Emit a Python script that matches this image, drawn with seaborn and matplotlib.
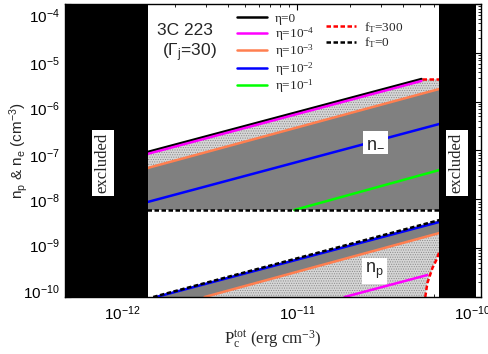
import matplotlib
matplotlib.use("Agg")
import matplotlib.pyplot as plt
import seaborn as sns
import numpy as np
from matplotlib.lines import Line2D
from matplotlib.ticker import LogLocator, NullFormatter
from matplotlib.transforms import ScaledTranslation

# ---- values (P_c^tot in erg cm^-3, n in cm^-3) ----
excl_left = [4.7e-13, 1.41e-12]
excl_right = [6.47e-11, 1.05e-10]

# upper branch (n_-)
p_eta0_e = [1.39e-12, 5.12e-11]
n_eta0_e = [9.3e-8, 2.91e-6]
p_eta4_e = [1.39e-12, 5.12e-11]
n_eta4_e = [8.5e-8, 2.66e-6]
p_eta3_e = [1.39e-12, 6.47e-11]
n_eta3_e = [4.37e-8, 1.82e-6]
p_eta2_e = [1.39e-12, 6.47e-11]
n_eta2_e = [8.8e-9, 3.49e-7]
p_eta1_e = [9.6e-12, 6.47e-11]
n_eta1_e = [6.04e-9, 3.98e-8]
p_f0_e = [1.39e-12, 6.47e-11]
n_f0_e = [6.04e-9, 6.04e-9]
p_f300_e = [5.12e-11, 6.47e-11]
n_f300_e = [2.91e-6, 2.91e-6]

# lower branch (n_p)
p_f0_p = [1.5e-12, 6.47e-11]
n_f0_p = [1.0e-10, 3.76e-9]
p_eta2_p = [1.56e-12, 6.47e-11]
n_eta2_p = [1.0e-10, 3.44e-9]
p_eta3_p = [2.95e-12, 6.47e-11]
n_eta3_p = [1.0e-10, 2.04e-9]
p_eta4_p = [1.86e-11, 5.53e-11]
n_eta4_p = [1.0e-10, 2.82e-10]
p_f300_p = [5.38e-11, 5.53e-11, 5.68e-11, 5.91e-11, 6.22e-11, 6.47e-11]
n_f300_p = [1.0e-10, 1.93e-10, 2.56e-10, 3.92e-10, 5.71e-10, 8.34e-10]

y_ticks = [1e-10, 1e-9, 1e-8, 1e-7, 1e-6, 1e-5, 1e-4]
eta_labels = ["η=0", "η=$\\mathregular{10^{-4}}$", "η=$\\mathregular{10^{-3}}$",
              "η=$\\mathregular{10^{-2}}$", "η=$\\mathregular{10^{-1}}$"]
eta_colors = ["black", "#ff00ff", "#ff7f50", "#0000ff", "#00ff00"]
ft_labels = ["$\\mathregular{f_T}$=300", "$\\mathregular{f_T}$=0"]
ft_colors = ["#ff0000", "black"]

sns.set_style("ticks")
plt.rcParams['font.family'] = ['Liberation Sans', 'DejaVu Sans']
plt.rcParams['hatch.color'] = '#8a8a8a'
plt.rcParams['hatch.linewidth'] = 0.5

fig = plt.figure(figsize=(4.89, 3.54), dpi=100)
ax = fig.add_axes([65/489, 1-297/354, 416/489, 293/354])
ax.set_xscale('log')
ax.set_yscale('log')

# filled regions
hatch_kw = dict(facecolor='#d6d6d6', edgecolor='#8a8a8a', hatch='.......', lw=0, zorder=1)
ax.fill(p_eta0_e + p_f300_e[1:] + p_eta3_e[::-1],
        n_eta0_e + n_f300_e[1:] + n_eta3_e[::-1], **hatch_kw)
ax.fill(p_eta3_e + p_f0_e[::-1], n_eta3_e + n_f0_e[::-1],
        color='#808080', lw=0, zorder=1)
ax.fill(p_f0_p + p_eta3_p[::-1], n_f0_p + n_eta3_p[::-1],
        color='#808080', lw=0, zorder=1)
ax.fill(p_eta3_p + p_f300_p[::-1], n_eta3_p + n_f300_p[::-1], **hatch_kw)

# lines
lw = 1.8
def line(px, ny, color, **kw):
    sns.lineplot(x=px, y=ny, ax=ax, color=color, lw=lw, sort=False,
                 legend=False, zorder=2, **kw)

line(p_eta0_e, n_eta0_e, eta_colors[0])
line(p_eta4_e, n_eta4_e, eta_colors[1])
line(p_eta3_e, n_eta3_e, eta_colors[2])
line(p_eta2_e, n_eta2_e, eta_colors[3])
line(p_eta1_e, n_eta1_e, eta_colors[4])
line(p_eta3_p, n_eta3_p, eta_colors[2])
line(p_eta2_p, n_eta2_p, eta_colors[3])
line(p_eta4_p, n_eta4_p, eta_colors[1])
line(p_f0_e, n_f0_e, 'black', dashes=(1.8, 1.0))
line(p_f0_p, n_f0_p, 'black', dashes=(1.8, 1.0))
line(p_f300_e, n_f300_e, ft_colors[0], dashes=(1.8, 1.0))
line(p_f300_p, n_f300_p, ft_colors[0], dashes=(1.8, 1.0))

# excluded ranges
ax.axvspan(*excl_left, color='black', lw=0, zorder=3)
ax.axvspan(*excl_right, color='black', lw=0, zorder=3)

ax.set_xlim(4.7e-13, 1.12e-10)
ax.set_ylim(1e-10, 1e-4)
ax.set_yticks(y_ticks)
ax.yaxis.set_minor_locator(LogLocator(base=10, subs=np.arange(2, 10), numticks=20))
ax.yaxis.set_minor_formatter(NullFormatter())
ax.tick_params(which='both', direction='in', top=True, right=True, labelsize=11,
               colors='black')
ax.tick_params(which='major', length=4, width=0.8)
ax.tick_params(which='minor', length=2, width=0.6)
ax.tick_params(axis='x', pad=5)
for s in ax.spines.values():
    s.set_linewidth(1.0)
    s.set_color('black')

# the y tick labels in the original drift a little off their ticks
ylab_shift = [-6, -3, 1, 5, 7, 10, 11]
for lab, d in zip(ax.get_yticklabels(), ylab_shift):
    lab.set_transform(lab.get_transform() + ScaledTranslation(0, -d / 100, fig.dpi_scale_trans))

ax.set_xlabel("$\\mathregular{P_c^{tot}}$ (erg cm$\\mathregular{^{-3}}$)",
              family=['Liberation Serif'], fontsize=12)
ax.xaxis.set_label_coords(0.5, -0.105)
ax.set_ylabel("$\\mathregular{n_p}$ & $\\mathregular{n_e}$ (cm$\\mathregular{^{-3}}$)",
              fontsize=11)
ax.yaxis.set_label_coords(-0.085, 0.5)

# annotations
ax.text(0.288, 0.911, "3C 223", transform=ax.transAxes, ha='center', va='center',
        fontsize=12.5, zorder=5)
ax.text(0.300, 0.833, "($\\mathregular{Γ_j}$=30)", transform=ax.transAxes,
        ha='center', va='center', fontsize=12.5, zorder=5)
box = dict(facecolor='white', edgecolor='none', pad=2)
for xa in [0.091, 0.942]:
    ax.text(xa, 0.457, "excluded", transform=ax.transAxes, rotation=90,
            ha='center', va='center', family=['Liberation Serif'], fontsize=12,
            bbox=box, zorder=5)
ax.text(0.746, 0.528, "n$\\mathregular{_{-}}$", transform=ax.transAxes,
        ha='center', va='center', fontsize=13, bbox=box, zorder=5)
ax.text(0.744, 0.088, "$\\mathregular{n_p}$", transform=ax.transAxes,
        ha='center', va='center', fontsize=13, bbox=box, zorder=5)

# legends
leg_font = dict(family='Liberation Serif', size=9.5)
h1 = [Line2D([0], [0], color=c, lw=lw) for c in eta_colors]
leg1 = ax.legend(h1, eta_labels, loc='upper left', bbox_to_anchor=(0.413, 0.97),
                 frameon=False, prop=leg_font, handlelength=2.3, handletextpad=0.6,
                 labelspacing=0.0, borderpad=0, borderaxespad=0)
leg1.set_zorder(6)
ax.add_artist(leg1)
h2 = [Line2D([0], [0], color=c, lw=lw, dashes=(1.8, 1.0)) for c in ft_colors]
leg2 = ax.legend(h2, ft_labels, loc='upper left', bbox_to_anchor=(0.627, 0.945),
                 frameon=False, prop=leg_font, handlelength=2.3, handletextpad=0.6,
                 labelspacing=0.05, borderpad=0, borderaxespad=0)
leg2.set_zorder(6)

fig.savefig("out.png", dpi=100)
